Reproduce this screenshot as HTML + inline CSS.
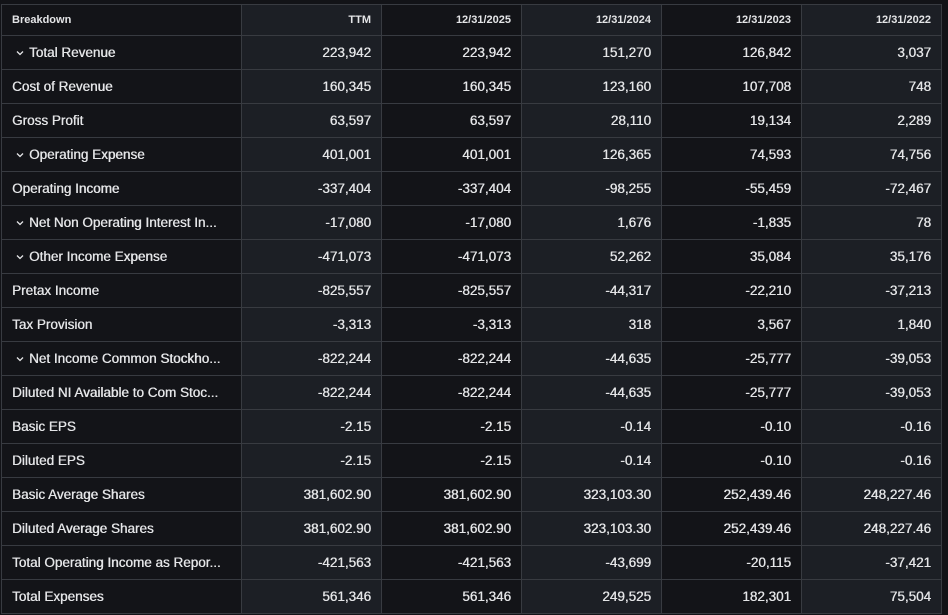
<!DOCTYPE html>
<html><head><style>
body{margin:0;background:#121317;width:948px;height:615px;overflow:hidden;font-family:"Liberation Sans",sans-serif;}
table{position:absolute;left:1px;top:4px;border-collapse:collapse;table-layout:fixed;}
td,th{border:1px solid #383b41;padding:0 10px;color:#e4e5e7;font-size:13.5px;white-space:nowrap;overflow:hidden;}
th{height:30px;font-size:11px;font-weight:bold;text-align:right;}
th:first-child{text-align:left;}
td{height:33px;text-align:right;text-shadow:0.4px 0 0 #e4e5e7;}
td:first-child{text-align:left;}
col.d{background:#131418;}
col.l{background:#1c1f25;}
.c{display:inline-block;width:8px;height:6px;margin:0 5px 1px 4px;vertical-align:middle;}
</style></head><body>
<svg width="0" height="0" style="position:absolute"><defs><symbol id="ch" viewBox="0 0 8 6"><path d="M1 1.5 L4 4.5 L7 1.5" fill="none" stroke="#e4e5e7" stroke-width="1.3"/></symbol></defs></svg>
<table>
<colgroup><col class="d" style="width:240px"><col class="l" style="width:140px"><col class="d" style="width:140px"><col class="l" style="width:140px"><col class="d" style="width:140px"><col class="l" style="width:140px"></colgroup>
<tr><th>Breakdown</th><th>TTM</th><th>12/31/2025</th><th>12/31/2024</th><th>12/31/2023</th><th>12/31/2022</th></tr>
<tr><td><svg class="c"><use href="#ch"/></svg>Total Revenue</td><td>223,942</td><td>223,942</td><td>151,270</td><td>126,842</td><td>3,037</td></tr>
<tr><td>Cost of Revenue</td><td>160,345</td><td>160,345</td><td>123,160</td><td>107,708</td><td>748</td></tr>
<tr><td>Gross Profit</td><td>63,597</td><td>63,597</td><td>28,110</td><td>19,134</td><td>2,289</td></tr>
<tr><td><svg class="c"><use href="#ch"/></svg>Operating Expense</td><td>401,001</td><td>401,001</td><td>126,365</td><td>74,593</td><td>74,756</td></tr>
<tr><td>Operating Income</td><td>-337,404</td><td>-337,404</td><td>-98,255</td><td>-55,459</td><td>-72,467</td></tr>
<tr><td><svg class="c"><use href="#ch"/></svg>Net Non Operating Interest In...</td><td>-17,080</td><td>-17,080</td><td>1,676</td><td>-1,835</td><td>78</td></tr>
<tr><td><svg class="c"><use href="#ch"/></svg>Other Income Expense</td><td>-471,073</td><td>-471,073</td><td>52,262</td><td>35,084</td><td>35,176</td></tr>
<tr><td>Pretax Income</td><td>-825,557</td><td>-825,557</td><td>-44,317</td><td>-22,210</td><td>-37,213</td></tr>
<tr><td>Tax Provision</td><td>-3,313</td><td>-3,313</td><td>318</td><td>3,567</td><td>1,840</td></tr>
<tr><td><svg class="c"><use href="#ch"/></svg>Net Income Common Stockho...</td><td>-822,244</td><td>-822,244</td><td>-44,635</td><td>-25,777</td><td>-39,053</td></tr>
<tr><td>Diluted NI Available to Com Stoc...</td><td>-822,244</td><td>-822,244</td><td>-44,635</td><td>-25,777</td><td>-39,053</td></tr>
<tr><td>Basic EPS</td><td>-2.15</td><td>-2.15</td><td>-0.14</td><td>-0.10</td><td>-0.16</td></tr>
<tr><td>Diluted EPS</td><td>-2.15</td><td>-2.15</td><td>-0.14</td><td>-0.10</td><td>-0.16</td></tr>
<tr><td>Basic Average Shares</td><td>381,602.90</td><td>381,602.90</td><td>323,103.30</td><td>252,439.46</td><td>248,227.46</td></tr>
<tr><td>Diluted Average Shares</td><td>381,602.90</td><td>381,602.90</td><td>323,103.30</td><td>252,439.46</td><td>248,227.46</td></tr>
<tr><td>Total Operating Income as Repor...</td><td>-421,563</td><td>-421,563</td><td>-43,699</td><td>-20,115</td><td>-37,421</td></tr>
<tr><td>Total Expenses</td><td>561,346</td><td>561,346</td><td>249,525</td><td>182,301</td><td>75,504</td></tr>
</table>
</body></html>
